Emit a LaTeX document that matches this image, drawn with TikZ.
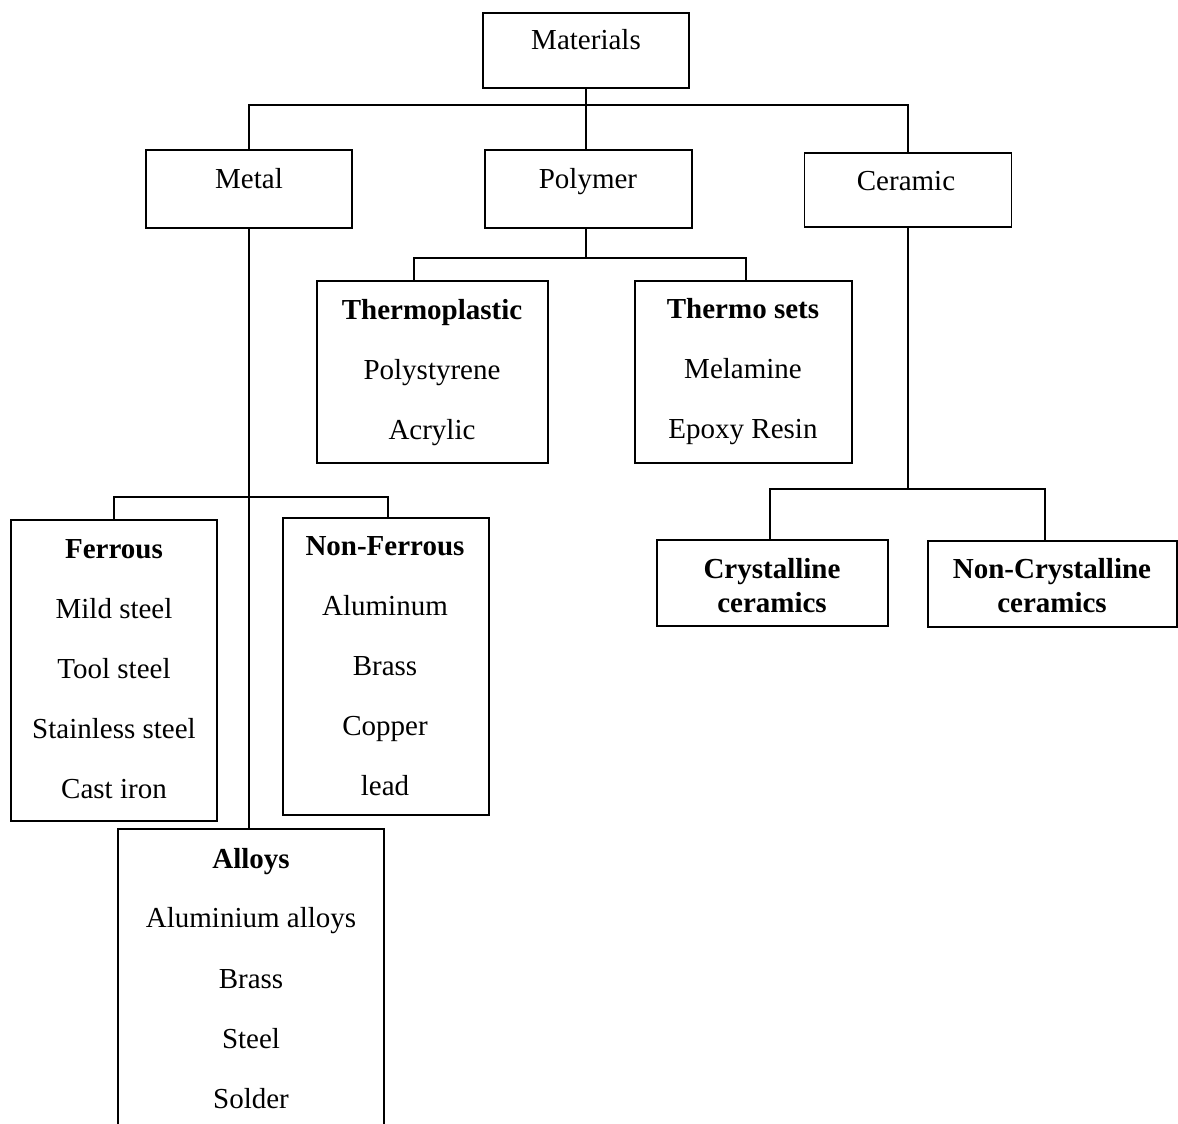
\documentclass[tikz,border=0pt]{standalone}
\usepackage{fontspec}
\setmainfont{Liberation Serif}
\begin{document}
\begin{tikzpicture}[x=1pt,y=-1pt,
  box/.style={draw, line width=1.6pt, rectangle, inner sep=0pt},
  wire/.style={line width=1.6pt},
  tx/.style={anchor=base, inner sep=0pt, font=\fontsize{29}{34}\selectfont},
  tb/.style={anchor=base, inner sep=0pt, font=\fontsize{29}{34}\selectfont\bfseries}]
\clip (0,0) rectangle (1178,1124);
\fill[white] (0,0) rectangle (1178,1124);
% boxes
\node[box, minimum width=206pt, minimum height=75pt] (materials) at (586,50.5) {};
\node[box, minimum width=206pt, minimum height=78pt] (metal) at (249,189) {};
\node[box, minimum width=207pt, minimum height=78pt] (polymer) at (588.5,189) {};
\node[box, minimum width=207pt, minimum height=74pt] (ceramic) at (908,190) {};
\node[box, minimum width=231pt, minimum height=182pt] (thermoplastic) at (432.5,372) {};
\node[box, minimum width=217pt, minimum height=182pt] (thermosets) at (743.5,372) {};
\node[box, minimum width=231pt, minimum height=86pt] (crystalline) at (772.5,583) {};
\node[box, minimum width=249pt, minimum height=86pt] (noncryst) at (1052.5,584) {};
\node[box, minimum width=206pt, minimum height=301pt] (ferrous) at (114,670.5) {};
\node[box, minimum width=206pt, minimum height=297pt] (nonferrous) at (386,666.5) {};
\node[box, minimum width=266pt, minimum height=351pt] (alloys) at (251,1004.5) {};
% connectors
\coordinate (bus1) at (586,105);
\coordinate (bus2) at (586,258);
\coordinate (bus3) at (908,489);
\coordinate (bus4) at (249,497);
\draw[wire] (materials.south) -- (materials.south |- polymer.north);
\draw[wire] (metal.north) |- (bus1) -| (ceramic.north);
\draw[wire] (bus2) -- (bus2 |- polymer.south);
\draw[wire] ([xshift=-18.5pt]thermoplastic.north) |- (bus2) -| ([xshift=2.5pt]thermosets.north);
\draw[wire] (ceramic.south) -- (bus3);
\draw[wire] ([xshift=-2.5pt]crystalline.north) |- (bus3) -| ([xshift=-7.5pt]noncryst.north);
\draw[wire] (metal.south) -- (metal.south |- alloys.north);
\draw[wire] (ferrous.north) |- (bus4) -| ([xshift=2pt]nonferrous.north);
% texts
\node[tx] (t-materials) at (586,50) {Materials};
\node[tx] (t-metal) at (249,188) {Metal};
\node[tx] (t-polymer) at (588,188) {Polymer};
\node[tx] (t-ceramic) at (906,190) {Ceramic};
\node[tb] (t-thermoplastic) at (432,319) {Thermoplastic};
\node[tx] (t-polystyrene) at (432,379) {Polystyrene};
\node[tx] (t-acrylic) at (432,439) {Acrylic};
\node[tb] (t-thermosets) at (743,318) {Thermo sets};
\node[tx] (t-melamine) at (743,378) {Melamine};
\node[tx] (t-epoxy) at (743,438) {Epoxy Resin};
\node[tb] (t-cryst1) at (772,578) {Crystalline};
\node[tb] (t-cryst2) at (772,612) {ceramics};
\node[tb] (t-ncryst1) at (1052,578) {Non-Crystalline};
\node[tb] (t-ncryst2) at (1052,612) {ceramics};
\node[tb] (t-ferrous) at (114,558) {Ferrous};
\node[tx] (t-mild) at (114,618) {Mild steel};
\node[tx] (t-tool) at (114,678) {Tool steel};
\node[tx] (t-stainless) at (114,738) {Stainless steel};
\node[tx] (t-cast) at (114,798) {Cast iron};
\node[tb] (t-nonferrous) at (385,555) {Non-Ferrous};
\node[tx] (t-aluminum) at (385,615) {Aluminum};
\node[tx] (t-brass1) at (385,675) {Brass};
\node[tx] (t-copper) at (385,735) {Copper};
\node[tx] (t-lead) at (385,795) {lead};
\node[tb] (t-alloys) at (251,868) {Alloys};
\node[tx] (t-alal) at (251,927) {Aluminium alloys};
\node[tx] (t-brass2) at (251,988) {Brass};
\node[tx] (t-steel) at (251,1048) {Steel};
\node[tx] (t-solder) at (251,1108) {Solder};
\end{tikzpicture}
\end{document}
